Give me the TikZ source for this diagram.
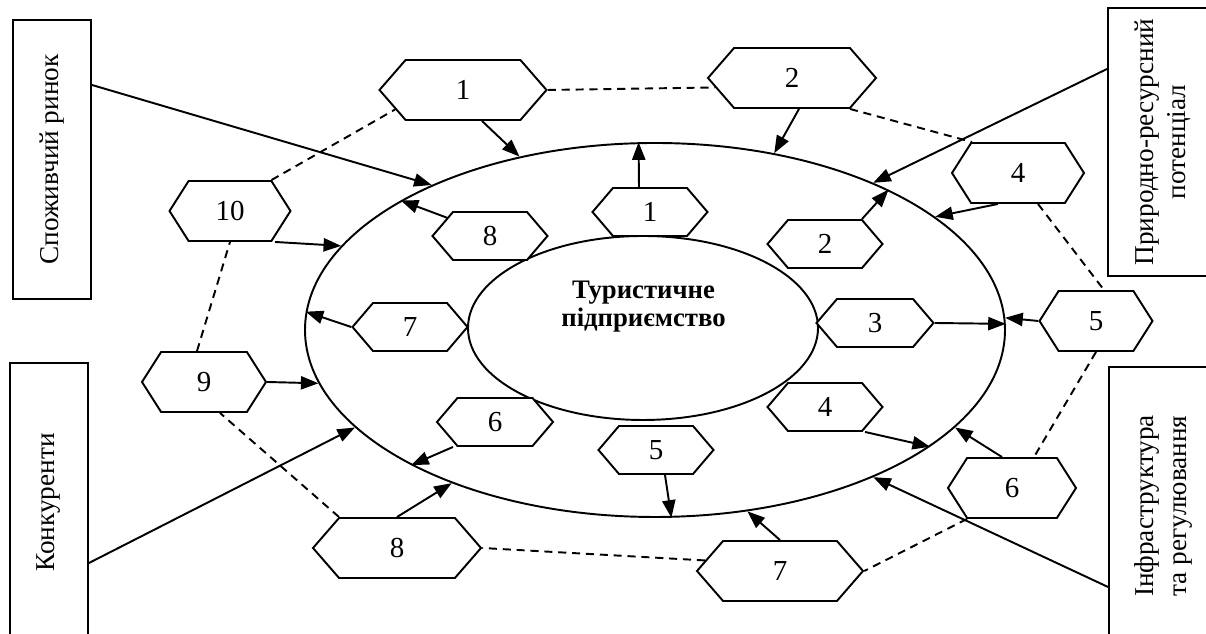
\documentclass[tikz,border=0pt]{standalone}
\usepackage{fontspec}
\setmainfont{Liberation Serif}
\usepackage{tikz}
\usetikzlibrary{arrows.meta}
\usetikzlibrary{shapes.geometric}
\usetikzlibrary{shapes.symbols}

\tikzset{
  hexbox/.style={draw,fill=white,signal,signal to=east and west,signal pointer angle=115,
    minimum height=1.2cm,inner sep=0pt,font=\fontsize{16.5}{16}\selectfont},
  widehex/.style={hexbox,signal pointer angle=98},
  smallhex/.style={hexbox,minimum height=0.96cm,minimum width=2.3cm,signal pointer angle=99},
  sidebox/.style={draw,inner sep=0pt,font=\fontsize{15.5}{18.5}\selectfont},
  link/.style={-{Triangle[length=10pt,width=7.5pt]}},
  ring/.style={dash pattern=on 4.6pt off 3.3pt}
}

\begin{document}
\begin{tikzpicture}[line width=1.1pt]
  \useasboundingbox (0,0) rectangle (24.12,12.68);
  %% enterprise and its environment
  \node[draw,ellipse,inner sep=0pt,minimum width=14cm,minimum height=7.48cm] (env) at (13.10,6.08) {};
  \node[draw,ellipse,inner sep=0pt,minimum width=7cm,minimum height=3.68cm] (firm) at (12.86,6.12) {};
  \node[align=center,font=\bfseries\fontsize{15.2}{16}\selectfont] (name) at (12.87,6.55) {Туристичне\\підприємство};
  %% outside factors
  \node[sidebox,minimum width=1.56cm,minimum height=5.58cm] (market) at (1.04,9.49) {\rotatebox{90}{Споживчий ринок}};
  \node[sidebox,minimum width=1.56cm,minimum height=5.58cm] (rivals) at (0.98,2.63) {\rotatebox{90}{Конкуренти}};
  \node[sidebox,minimum width=2.2cm,minimum height=5.36cm] (nature) at (23.26,9.84)
    {\rotatebox{90}{\begin{tabular}{@{}c@{}}Природно-ресурсний\\потенціал\end{tabular}}};
  \node[sidebox,minimum width=2.18cm,minimum height=5.56cm] (infra) at (23.27,2.56)
    {\rotatebox{90}{\begin{tabular}{@{}c@{}}Інфраструктура\\та регулювання\end{tabular}}};
  %% outer ring
  \node[widehex,minimum width=3.34cm] (o1) at (9.26,10.88) {1};
  \node[widehex,minimum width=3.36cm] (o2) at (15.84,11.12) {2};
  \node[hexbox,minimum width=2.64cm] (o4) at (20.36,9.22) {4};
  \node[hexbox,minimum width=2.26cm] (o5) at (21.92,6.26) {5};
  \node[hexbox,minimum width=2.56cm] (o6) at (20.24,2.92) {6};
  \node[widehex,minimum width=3.32cm] (o7) at (15.60,1.26) {7};
  \node[widehex,minimum width=3.36cm] (o8) at (7.94,1.72) {8};
  \node[hexbox,minimum width=2.48cm] (o9) at (4.08,5.04) {9};
  \node[hexbox,minimum width=2.42cm] (o10) at (4.60,8.46) {10};
  %% inner ring
  \node[smallhex] (i1) at (13.00,8.44) {1};
  \node[smallhex] (i2) at (16.50,7.80) {2};
  \node[smallhex,minimum width=2.34cm] (i3) at (17.50,6.22) {3};
  \node[smallhex] (i4) at (16.50,4.54) {4};
  \node[smallhex] (i5) at (13.12,3.68) {5};
  \node[smallhex,minimum width=2.32cm] (i6) at (9.90,4.24) {6};
  \node[smallhex] (i7) at (8.20,6.14) {7};
  \node[smallhex] (i8) at (9.80,7.96) {8};
  %% factors to the enterprise
  \draw[link] ([yshift=1.49cm]market.east) -- (env.147);
  \draw[link] ([yshift=1.46cm]nature.west) -- (env.34);
  \draw[link] ([yshift=-1.21cm]rivals.east) -- (env.198);
  \draw[link] ([yshift=-1.62cm]infra.west) -- (env.326);
  %% outer ring arrows
  \draw[link] ([xshift=0.38cm]o1.south) -- (env.128);
  \draw[link] ([xshift=0.14cm]o2.south) -- (env.56);
  \draw[link] ([xshift=-0.4cm]o4.south) -- (env.22);
  \draw[link] (o5.west) -- (env.2);
  \draw[link] ([xshift=-0.2cm]o6.north) -- (env.342);
  \draw[link] (o7.north) -- (env.297);
  \draw[link] (o8.north) -- (env.217);
  \draw[link] (o9.east) -- (env.189);
  \draw[link] ([xshift=0.9cm]o10.south) -- (env.165);
  %% inner ring arrows
  \draw[link] ([xshift=-0.22cm]i1.north) -- (env.95);
  \draw[link] ([xshift=0.74cm]i2.north) -- (env.31);
  \draw[link] (i3.east) -- (env.1);
  \draw[link] ([xshift=0.8cm]i4.south) -- (env.337);
  \draw[link] ([xshift=0.18cm]i5.south) -- (env.275);
  \draw[link] ([xshift=-0.84cm]i6.south) -- (env.209);
  \draw[link] (i7.west) -- (env.177);
  \draw[link] (i8.157) -- (env.153);
  %% dashed ring
  \draw[ring] (o1.east) -- (o2.187);
  \draw[ring] ([xshift=1.16cm]o2.south) -- ([xshift=-0.92cm]o4.north);
  \draw[ring] ([xshift=0.4cm]o4.south) -- ([xshift=0.16cm]o5.north);
  \draw[ring] (o5.south) -- ([xshift=0.44cm]o6.north);
  \draw[ring] ([xshift=-0.9cm]o6.south) -- (o7.east);
  \draw[ring] (o7.172) -- (o8.east);
  \draw[ring] ([xshift=-1.16cm]o8.north) -- ([xshift=0.32cm]o9.south);
  \draw[ring] ([xshift=-0.14cm]o9.north) -- (o10.south);
  \draw[ring] ([xshift=0.83cm]o10.north) -- (o1.196);
\end{tikzpicture}
\end{document}
